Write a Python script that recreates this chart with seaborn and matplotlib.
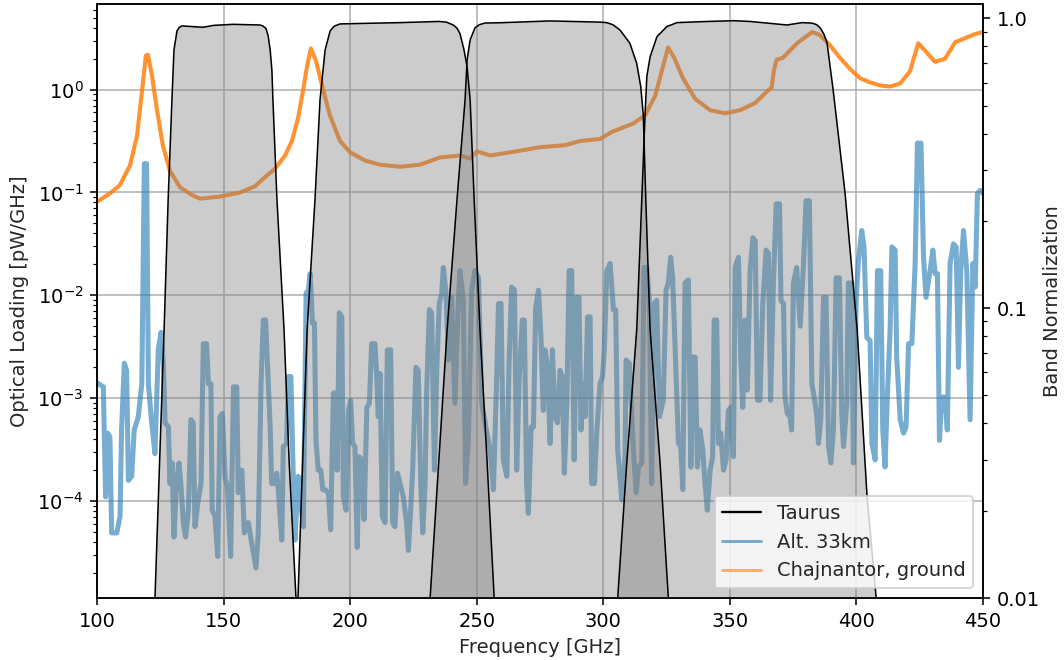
import numpy as np
import pandas as pd
import matplotlib
matplotlib.use("Agg")
import matplotlib.pyplot as plt
from matplotlib.lines import Line2D
import seaborn as sns

# ---------------- data ----------------
# Alt. 33km optical loading (log10 of pW/GHz)
alt_freq = [100.0, 102.5, 103.4, 104.2, 105.1, 105.8, 107.8, 109.1, 109.7, 110.8, 111.7, 112.4, 113.7, 114.7,
            116.3, 117.7, 118.7, 119.6, 120.3, 121.6, 122.9, 124.2, 125.3, 126.2, 126.9, 128.2, 128.8, 129.7,
            130.4, 131.4, 132.4, 133.2, 134.1, 135.0, 136.1, 137.1, 138.0, 138.7, 140.0, 141.1, 142.0, 143.3,
            144.0, 145.0, 145.5, 146.6, 147.7, 148.6, 149.5, 150.6, 151.5, 152.8, 153.9, 155.2, 155.8, 157.2,
            158.2, 159.8, 161.1, 162.8, 163.7, 164.8, 165.7, 166.6, 167.4, 168.4,
            169.0, 170.3, 171.0, 171.6, 173.0, 173.6, 174.9, 175.6, 176.6, 177.6, 178.2, 179.5, 180.5, 181.5,
            182.6, 183.5, 184.2, 185.1, 185.9, 186.5, 187.4, 188.4, 189.2, 190.1, 191.4, 192.3, 193.4, 194.4,
            194.9, 195.7, 196.7, 197.3, 198.4, 199.3, 200.2, 201.0, 201.9, 202.8, 203.6, 204.6, 205.5, 206.6,
            207.6, 208.5, 209.8, 210.5, 211.1, 211.8, 212.7, 213.8, 214.7, 216.0, 216.8, 217.7, 218.7, 219.7,
            221.0, 222.3, 223.0, 223.7, 224.7, 226.0, 226.9, 227.9, 228.7, 229.6, 230.2, 231.3, 232.2, 233.3,
            234.2, 235.2, 236.2, 236.8, 237.9,
            238.8, 240.1, 241.4, 242.8, 243.4, 244.7, 245.6, 246.7, 248.0, 249.3, 250.7, 252.0, 253.6, 255.3,
            256.6, 257.9, 258.6, 259.6, 260.5, 261.9, 262.8, 263.8, 264.9, 265.8, 266.7, 268.0, 268.8, 269.7,
            270.4, 271.5, 272.4, 273.3, 274.4, 275.4, 276.3, 277.0, 278.0, 279.0, 279.9, 280.9, 281.9, 282.9,
            283.8, 284.6, 285.6, 286.5, 287.5, 288.5, 289.5, 290.4, 291.2, 292.1, 292.8, 293.8, 294.8, 295.4,
            296.5, 297.4, 298.7, 299.7, 300.4, 301.4, 302.7, 304.0, 304.9, 305.7, 307.3, 308.6,
            309.0, 310.3, 311.9, 313.0, 313.9, 315.2, 316.1, 317.2, 318.2, 319.1, 320.1, 321.1, 322.2, 323.7,
            324.8, 325.7, 326.6, 327.4, 328.4, 329.7, 330.6, 331.4, 332.3, 333.6, 334.6, 335.4, 336.3, 337.2,
            338.2, 339.3, 340.2, 341.1, 342.2, 343.2, 343.8, 344.8, 345.5, 346.4, 347.5, 348.5, 349.4, 350.4,
            351.4, 352.1, 353.4, 354.3, 355.1, 356.0, 356.9, 358.0, 359.1, 360.0, 360.9, 361.9, 363.0, 364.3,
            365.2, 366.1, 367.2, 368.3, 369.6, 370.2, 371.2, 371.8, 372.7, 373.8, 374.4, 375.1, 376.4, 377.8,
            379.1, 380.1, 381.4, 382.4, 383.3, 384.4, 385.0, 385.9, 387.0, 388.0, 389.0, 389.9, 390.9, 392.0,
            393.3, 394.2, 394.9, 396.2, 396.8, 398.1, 398.8, 399.9, 400.8, 402.1, 403.0, 404.1, 405.4, 406.1,
            407.4, 408.3, 409.6, 410.4, 411.3, 412.2, 413.3, 414.0, 415.3, 415.9, 417.3, 418.6, 419.6, 420.6,
            421.9, 423.2, 424.1, 425.5, 426.5, 427.5, 429.1, 430.2, 431.1, 432.0, 432.8, 433.7, 435.0, 435.9,
            437.0, 438.3, 439.4, 440.3, 441.2, 442.3, 443.6, 444.9, 446.0, 446.9, 447.8, 448.9, 450.0]
alt_log10 = [-2.85, -2.89, -3.96, -3.34, -3.38, -4.31, -4.31, -4.15, -3.31, -2.66, -2.73, -3.80, -3.76, -3.31,
             -3.18, -2.86, -0.72, -0.72, -2.86, -3.24, -3.54, -2.53, -2.36, -2.66, -3.24, -3.28, -3.83, -3.63,
             -4.35, -3.83, -3.63, -3.86, -4.21, -4.35, -4.09, -3.21, -3.24, -4.25, -3.99, -3.83, -2.47, -2.47,
             -2.86, -2.86, -4.09, -4.15, -4.54, -3.18, -3.15, -3.77, -3.86, -4.54, -2.89, -2.89, -3.92, -3.70,
             -4.31, -4.21, -4.41, -4.65, -4.31, -2.86, -2.24, -2.24, -2.70, -3.28,
             -3.83, -3.83, -3.73, -3.89, -4.38, -3.47, -3.44, -2.79, -2.79, -3.83, -4.38, -3.76, -4.02, -4.25,
             -1.98, -1.95, -1.79, -2.27, -2.27, -3.41, -3.70, -3.70, -3.89, -3.89, -3.92, -4.28, -2.95, -2.95,
             -3.70, -2.17, -2.21, -3.96, -4.09, -3.12, -3.02, -3.44, -3.47, -4.45, -3.57, -3.60, -4.18, -3.09,
             -3.05, -2.47, -2.47, -2.79, -3.18, -2.76, -4.15, -4.21, -2.53, -2.53, -4.21, -4.25, -3.73, -3.83,
             -3.96, -4.21, -4.48, -4.18, -3.70, -2.70, -2.73, -3.83, -4.31, -3.83, -2.95, -2.14, -2.17, -3.70,
             -2.73, -2.08, -1.98, -1.73, -1.98,
             -2.63, -2.02, -3.05, -2.02, -1.76, -2.05, -3.83, -3.41, -1.95, -1.76, -1.83, -3.05, -3.28, -3.50,
             -3.89, -2.79, -2.08, -2.08, -3.60, -3.76, -2.63, -1.92, -1.95, -3.70, -2.86, -2.24, -2.24, -3.83,
             -4.12, -3.28, -3.28, -2.12, -1.95, -2.41, -3.12, -2.53, -2.70, -3.44, -2.53, -3.18, -3.24, -2.73,
             -2.79, -3.73, -3.05, -1.76, -1.76, -3.60, -2.02, -2.02, -3.31, -2.86, -3.18, -2.21, -2.21, -3.83,
             -3.83, -3.34, -2.86, -2.79, -2.53, -1.76, -1.69, -2.14, -2.14, -3.50, -3.99, -3.57,
             -2.63, -2.66, -3.50, -3.92, -3.67, -3.63, -1.73, -1.73, -2.05, -3.83, -2.08, -2.05, -3.18, -3.02,
             -1.95, -1.88, -1.63, -1.83, -2.53, -3.44, -3.47, -3.89, -1.88, -1.85, -3.67, -2.60, -2.60, -3.67,
             -3.31, -3.50, -3.83, -4.09, -3.70, -3.57, -2.24, -2.24, -3.44, -3.34, -3.70, -3.60, -3.12, -3.09,
             -3.57, -1.73, -1.63, -2.60, -3.09, -2.24, -2.92, -1.76, -1.44, -1.47, -3.02, -3.02, -2.08, -1.56,
             -1.59, -3.02, -1.88, -1.11, -1.11, -2.05, -2.08, -2.99, -3.15, -3.18, -3.31, -1.88, -1.73, -2.30,
             -1.69, -1.08, -1.08, -2.86, -2.99, -3.18, -3.44, -3.21, -2.02, -2.02, -3.47, -3.63, -3.31, -1.83,
             -1.83, -3.15, -3.47, -3.05, -1.88, -1.88, -3.63, -2.05, -1.66, -1.37, -1.53, -2.41, -2.44, -3.44,
             -3.60, -1.76, -1.76, -3.31, -3.67, -2.99, -2.34, -1.53, -1.56, -2.60, -3.21, -3.34, -3.28, -2.47,
             -2.47, -1.69, -0.52, -0.52, -1.63, -2.02, -1.76, -1.56, -1.79, -1.79, -3.41, -2.99, -2.99, -3.31,
             -1.69, -1.50, -1.53, -2.70, -1.76, -1.37, -1.76, -3.21, -1.69, -1.92, -1.01, -0.98, -1.01]

# Chajnantor ground optical loading (log10 of pW/GHz)
gnd_freq = [100.0, 105.1, 109.0, 113.0, 115.8, 117.8, 119.3, 120.1, 121.7, 123.7, 126.0, 128.8, 132.8, 137.9,
            140.7, 148.6, 156.5, 162.4, 166.4, 170.3, 174.3, 177.0, 179.4, 181.4, 183.0, 184.5, 186.5, 188.9,
            192.0, 196.0, 200.0, 205.9, 211.8, 219.7, 227.6, 235.5, 243.4, 247.4, 250.1, 255.3, 263.2, 275.0,
            284.9, 290.8, 298.7, 303.5, 311.8, 316.5, 320.5, 323.3, 325.6, 328.0, 331.5, 336.3, 342.2, 348.1,
            354.0, 360.0, 365.0, 366.5, 367.5, 368.5, 371.0, 376.5, 382.5, 385.6, 389.6, 393.5, 397.5, 401.5,
            405.4, 409.4, 413.3, 417.3, 421.2, 424.4, 427.1, 431.0, 435.0, 439.0, 442.9, 446.8, 450.0]
gnd_log10 = [-1.09, -1.01, -0.93, -0.74, -0.45, -0.01, 0.33, 0.34, 0.14, -0.20, -0.54, -0.79, -0.95, -1.03,
             -1.06, -1.04, -1.00, -0.94, -0.85, -0.77, -0.64, -0.50, -0.28, -0.01, 0.23, 0.40, 0.28, 0.04,
             -0.25, -0.50, -0.61, -0.69, -0.73, -0.75, -0.73, -0.66, -0.64, -0.67, -0.60, -0.64, -0.61, -0.56,
             -0.54, -0.50, -0.48, -0.41, -0.33, -0.25, -0.06, 0.20, 0.41, 0.31, 0.11, -0.09, -0.20, -0.23,
             -0.20, -0.13, -0.01, 0.02, 0.20, 0.29, 0.31, 0.45, 0.56, 0.53, 0.43, 0.31, 0.20, 0.11,
             0.07, 0.04, 0.03, 0.06, 0.18, 0.45, 0.38, 0.27, 0.30, 0.46, 0.50, 0.54, 0.56]

# Taurus band passes (normalized)
band1_freq = [121.5, 122.9, 126.5, 128.1, 129.6, 130.4, 131.6, 132.5, 133.6, 141.9, 146.0, 153.7, 160.0, 164.4,
              165.6, 166.8, 167.6, 168.4, 169.1, 169.5, 171.1, 173.9, 175.9, 178.6, 179.5]
band1_val = [0.005, 0.010, 0.084, 0.236, 0.523, 0.777, 0.905, 0.930, 0.941, 0.931, 0.945, 0.953, 0.950, 0.948,
             0.940, 0.920, 0.870, 0.780, 0.660, 0.523, 0.236, 0.084, 0.0295, 0.010, 0.006]
band2_freq = [178.5, 179.4, 183.0, 186.1, 188.1, 190.1, 192.1, 193.8, 196.0, 205.0, 219.7, 235.0, 238.0, 240.7,
              242.2, 243.4, 245.0, 246.2, 247.4, 249.0, 251.3, 254.1, 256.9, 258.0]
band2_val = [0.006, 0.010, 0.084, 0.236, 0.523, 0.777, 0.905, 0.940, 0.956, 0.960, 0.966, 0.975, 0.970, 0.948,
             0.925, 0.885, 0.777, 0.679, 0.523, 0.236, 0.084, 0.0295, 0.010, 0.006]
band3_freq = [230.5, 231.6, 238.3, 242.2, 245.4, 246.2, 247.4, 249.3, 251.0, 253.3, 259.0, 279.0, 298.7, 301.3,
              303.8, 306.6, 310.5, 313.2, 314.8, 315.8, 316.8, 318.5, 322.4, 325.7, 326.7]
band3_val = [0.006, 0.010, 0.084, 0.236, 0.523, 0.718, 0.842, 0.926, 0.950, 0.963, 0.965, 0.979, 0.970, 0.966,
             0.950, 0.911, 0.820, 0.699, 0.581, 0.464, 0.236, 0.084, 0.0295, 0.010, 0.006]
band4_freq = [304.7, 305.7, 309.3, 313.2, 315.2, 316.5, 317.2, 318.5, 321.2, 325.1, 329.1, 338.2, 351.3, 358.0,
              372.6, 378.5, 382.5, 384.3, 385.7, 387.2, 388.4, 390.8, 395.5, 400.3, 404.2, 407.8, 408.8]
band4_val = [0.006, 0.010, 0.0295, 0.084, 0.236, 0.464, 0.630, 0.737, 0.864, 0.936, 0.966, 0.973, 0.981, 0.975,
             0.948, 0.966, 0.962, 0.950, 0.926, 0.880, 0.822, 0.566, 0.250, 0.084, 0.0224, 0.010, 0.006]

bands = [(band1_freq, band1_val), (band2_freq, band2_val), (band3_freq, band3_val), (band4_freq, band4_val)]

xticks = [100, 150, 200, 250, 300, 350, 400, 450]
right_ticks = [0.01, 0.1, 1.0]
right_ticklabels = ["0.01", "0.1", "1.0"]

# ---------------- plot ----------------
sns.set_style("ticks")
plt.rcParams["font.family"] = ["DejaVu Sans"]

DPI = 140
fig = plt.figure(figsize=(1064 / DPI, 660 / DPI), dpi=DPI)
ax = fig.add_axes([97 / 1064, 1 - 598 / 660, (983 - 97) / 1064, (598 - 4) / 660])

alt_df = pd.DataFrame({"f": alt_freq, "v": 10 ** np.array(alt_log10)})
gnd_df = pd.DataFrame({"f": gnd_freq, "v": 10 ** np.array(gnd_log10)})

blue = "#1f77b4"
orange = "#ff7f0e"
sns.lineplot(data=alt_df, x="f", y="v", ax=ax, color=blue, alpha=0.6, lw=2.6, legend=False)
sns.lineplot(data=gnd_df, x="f", y="v", ax=ax, color=orange, alpha=0.85, lw=2.1, legend=False)
ax.set_yscale("log")
ax.set_xlim(100, 450)
ax.set_ylim(1.14e-5, 6.8)
ax.set_xticks(xticks)
ax.grid(True, which="major", color="#b0b0b0", lw=0.8)
ax.set_xlabel("Frequency [GHz]")
ax.set_ylabel("Optical Loading [pW/GHz]")

ax2 = ax.twinx()
for bf, bv in bands:
    bdf = pd.DataFrame({"f": bf, "v": bv})
    ax2.fill_between(bdf["f"], bdf["v"], 1e-4, color="gray", alpha=0.4, lw=0)
    sns.lineplot(data=bdf, x="f", y="v", ax=ax2, color="black", lw=0.8, legend=False)
ax2.set_yscale("log")
ax2.set_ylim(0.01, 1.12)
ax2.set_xlim(100, 450)
ax2.set_yticks(right_ticks)
ax2.set_yticklabels(right_ticklabels)
ax2.set_ylabel("Band Normalization", labelpad=1.5)
ax2.set_xlabel("")

for a in (ax, ax2):
    for s in a.spines.values():
        s.set_color("black")
        s.set_linewidth(0.8)
    a.tick_params(colors="black", which="both")

handles = [Line2D([], [], color="black", lw=1.2),
           Line2D([], [], color=blue, alpha=0.6, lw=1.5),
           Line2D([], [], color=orange, alpha=0.6, lw=1.5)]
ax2.legend(handles, ["Taurus", "Alt. 33km", "Chajnantor, ground"], loc="lower right")

fig.savefig("out.png", dpi=DPI)
